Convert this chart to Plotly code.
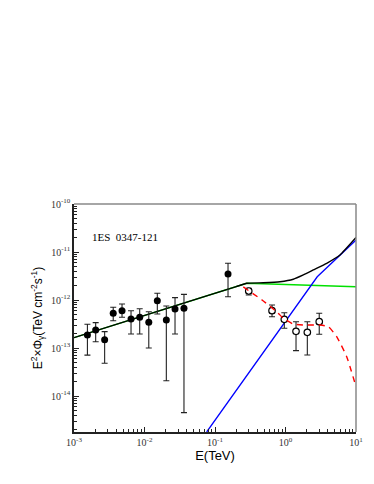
import plotly.graph_objects as go

# Filled points (measured)
E_f = [1.55e-3, 2.03e-3, 2.72e-3, 3.6e-3, 4.8e-3, 6.44e-3, 8.55e-3, 1.15e-2, 1.52e-2, 2.04e-2, 2.71e-2, 3.63e-2, 0.153]
F_f = [1.87e-13, 2.37e-13, 1.49e-13, 5.28e-13, 5.98e-13, 4.02e-13, 4.36e-13, 3.43e-13, 9.66e-13, 3.83e-13, 6.49e-13, 6.71e-13, 3.48e-12]
F_f_hi = [3.12e-13, 3.37e-13, 2.19e-13, 7.05e-13, 8.26e-13, 5.98e-13, 6.59e-13, 5.7e-13, 1.38e-12, 7.5e-13, 1.12e-12, 1.31e-12, 5.82e-12]
F_f_lo = [7.1e-14, 1.35e-13, 4.8e-14, 3.7e-13, 4.36e-13, 1.96e-13, 1.96e-13, 1.0e-13, 5.1e-13, 2.08e-14, 1.96e-13, 4.5e-15, 1.17e-12]

# Open points
E_o = [0.301, 0.644, 0.962, 1.41, 2.04, 3.01]
F_o = [1.54e-12, 5.98e-13, 3.96e-13, 2.23e-13, 2.12e-13, 3.53e-13]
F_o_hi = [1.75e-12, 7.87e-13, 5.43e-13, 3.53e-13, 3.53e-13, 5.28e-13]
F_o_lo = [1.27e-12, 4.49e-13, 2.57e-13, 8.8e-14, 7.15e-14, 1.93e-13]

# Model curves
E_green = [1e-3, 0.282, 10]
F_green = [1.64e-13, 2.23e-12, 1.89e-12]

E_black = [1e-3, 0.0316, 0.2, 0.282, 0.484, 0.836, 1.29, 1.79, 2.48, 3.84, 5.93, 10]
F_black = [1.64e-13, 8.1e-13, 1.90e-12, 2.23e-12, 2.29e-12, 2.40e-12, 2.70e-12, 3.32e-12, 4.22e-12, 5.82e-12, 8.66e-12, 2.0e-11]

E_blue = [0.0762, 2.82, 10]
F_blue = [1.78e-15, 3.05e-12, 1.78e-11]

E_red = [0.252, 0.465, 0.757, 0.931, 1.29, 1.79, 3.08, 4.05, 5.32, 7.38, 10]
F_red = [1.87e-12, 1.0e-12, 5.62e-13, 4.16e-13, 3.16e-13, 3.01e-13, 3.01e-13, 2.78e-13, 1.72e-13, 6.59e-14, 1.56e-14]

x_tickvals = [1e-3, 1e-2, 1e-1, 1e0, 1e1]
x_ticktext = ["10<sup>-3</sup>", "10<sup>-2</sup>", "10<sup>-1</sup>", "10<sup>0</sup>", "10<sup>1</sup>"]
y_tickvals = [1e-14, 1e-13, 1e-12, 1e-11, 1e-10]
y_ticktext = ["10<sup>-14</sup>", "10<sup>-13</sup>", "10<sup>-12</sup>", "10<sup>-11</sup>", "10<sup>-10</sup>"]

x_minor = [m * 10.0 ** d for d in range(-3, 1) for m in range(2, 10)]
y_minor = [m * 10.0 ** d for d in range(-15, -10) for m in range(2, 10)]

fig = go.Figure()

fig.add_trace(go.Scatter(x=E_green, y=F_green, mode="lines",
                         line=dict(color="#00e000", width=1.4), showlegend=False))
fig.add_trace(go.Scatter(x=E_blue, y=F_blue, mode="lines",
                         line=dict(color="#0000ff", width=1.3), showlegend=False))
fig.add_trace(go.Scatter(x=E_black, y=F_black, mode="lines",
                         line=dict(color="black", width=1.4, shape="spline", smoothing=0.4),
                         showlegend=False))

def errs(v, hi, lo):
    return [h - x for x, h in zip(v, hi)], [x - l for x, l in zip(v, lo)]

up_f, dn_f = errs(F_f, F_f_hi, F_f_lo)
fig.add_trace(go.Scatter(x=E_f, y=F_f, mode="markers",
                         marker=dict(color="black", size=7),
                         error_y=dict(type="data", array=up_f, arrayminus=dn_f,
                                      color="#222", thickness=1.1, width=3),
                         showlegend=False))
up_o, dn_o = errs(F_o, F_o_hi, F_o_lo)
fig.add_trace(go.Scatter(x=E_o, y=F_o, mode="markers",
                         marker=dict(color="white", size=6.5, line=dict(color="black", width=1.2)),
                         error_y=dict(type="data", array=up_o, arrayminus=dn_o,
                                      color="#222", thickness=1.1, width=3),
                         showlegend=False))
fig.add_trace(go.Scatter(x=E_red, y=F_red, mode="lines",
                         line=dict(color="#ff0000", width=1.4, dash="6px,5px", shape="spline", smoothing=0.5),
                         showlegend=False))

tickfont = dict(family="Liberation Serif, Times New Roman, serif", size=10, color="#333")
axis_common = dict(type="log", showgrid=False, zeroline=False, showline=True,
                   linecolor="#222", linewidth=1.5, ticks="inside", ticklen=5,
                   tickcolor="#222", tickfont=tickfont, automargin=False)

fig.update_xaxes(range=[-3, 1], tickvals=x_tickvals, ticktext=x_ticktext,
                 minor=dict(ticks="inside", ticklen=3, tickcolor="#222", showgrid=False, tickvals=x_minor),
                 title=dict(text="E(TeV)", font=dict(family="Liberation Sans, Arial, sans-serif", size=13, color="black"), standoff=4),
                 **axis_common)
fig.update_yaxes(range=[-14.75, -10], tickvals=y_tickvals, ticktext=y_ticktext,
                 minor=dict(ticks="inside", ticklen=3, tickcolor="#222", showgrid=False, tickvals=y_minor),
                 title=dict(text="E<sup>2</sup>×Φ<sub>γ</sub>(TeV cm<sup>-2</sup>s<sup>-1</sup>)",
                            font=dict(family="Liberation Sans, Arial, sans-serif", size=12, color="black"), standoff=6),
                 **axis_common)

fig.add_shape(type="line", xref="paper", yref="paper", x0=0, x1=1, y0=1, y1=1,
              line=dict(color="#888", width=1.5))
fig.add_shape(type="line", xref="paper", yref="paper", x0=1, x1=1, y0=0, y1=1,
              line=dict(color="#888", width=1.5))

fig.add_annotation(text="1ES  0347-121", xref="paper", yref="paper",
                   x=0.056, y=0.855, xanchor="left", yanchor="middle", showarrow=False,
                   font=dict(family="Liberation Serif, Times New Roman, serif", size=11, color="black"))

fig.update_layout(width=366, height=476, margin=dict(l=66, r=18, t=196, b=52),
                  paper_bgcolor="white", plot_bgcolor="white")

fig.write_html("out.html")
